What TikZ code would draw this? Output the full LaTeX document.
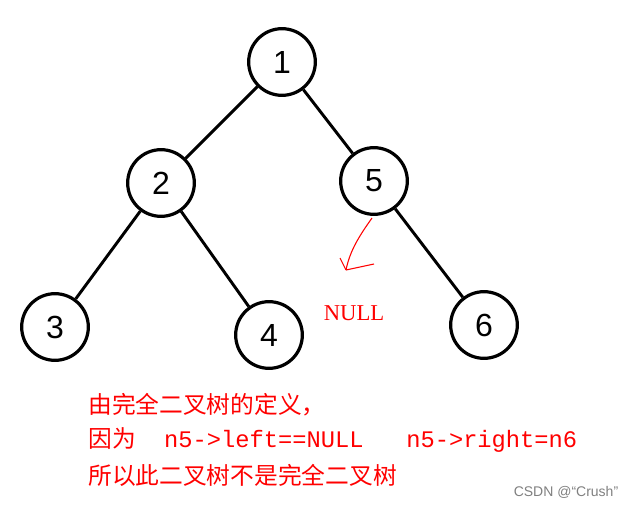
\documentclass[tikz,border=0pt]{standalone}
\usepackage{fontspec}
\setmainfont{Liberation Sans}
\newfontfamily\cjk{Noto Sans CJK SC}
\newfontfamily\monof{Liberation Mono}
\newfontfamily\serf{Liberation Serif}
\begin{document}
\begin{tikzpicture}[x=0.75pt,y=-0.75pt]
\tikzset{tn/.style={circle,draw=black,line width=2.4pt,minimum size=50pt,inner sep=0pt,font=\fontsize{24}{28}\selectfont},
 ed/.style={line width=2.2pt},
 rt/.style={text=red,anchor=west,inner sep=0pt,font=\fontsize{17.8}{20}\selectfont}}
\useasboundingbox (0,0) rectangle (640,508);
\fill[white] (0,0) rectangle (640,508);
\node[tn] (n1) at (282,62) {1};
\node[tn] (n2) at (161,183) {2};
\node[tn] (n5) at (374,181) {5};
\node[tn] (n3) at (55,327) {3};
\node[tn] (n4) at (269,335) {4};
\node[tn] (n6) at (484,325) {6};
\draw[ed] (n1)--(n2); \draw[ed] (n1)--(n5);
\draw[ed] (n2)--(n3); \draw[ed] (n2)--(n4);
\draw[ed] (n5)--(n6);
\coordinate (a0) at (372,218);
\coordinate (a1) at (346,270);
\draw[red,line width=0.8pt] (a0) .. controls (360,235) and (350,250) .. (a1);
\draw[red,line width=0.8pt] (a1) -- (340,258);
\draw[red,line width=0.8pt] (a1) -- (374,264);
\node[text=red,font=\serf\fontsize{17}{20}\selectfont] (null) at (354,313) {NULL};
\node[rt] (t1) at (88,405) {\cjk 由完全二叉树的定义，};
\node[rt] (t2) at (88,440) {\cjk 因为\monof\ \ n5->left==NULL\ \ \ n5->right=n6};
\node[rt] (t3) at (88,475) {\cjk 所以此二叉树不是完全二叉树};
\node[text=gray,font=\fontsize{10.5}{12}\selectfont] (wm) at (566,492) {CSDN @“Crush”};
\end{tikzpicture}
\end{document}
